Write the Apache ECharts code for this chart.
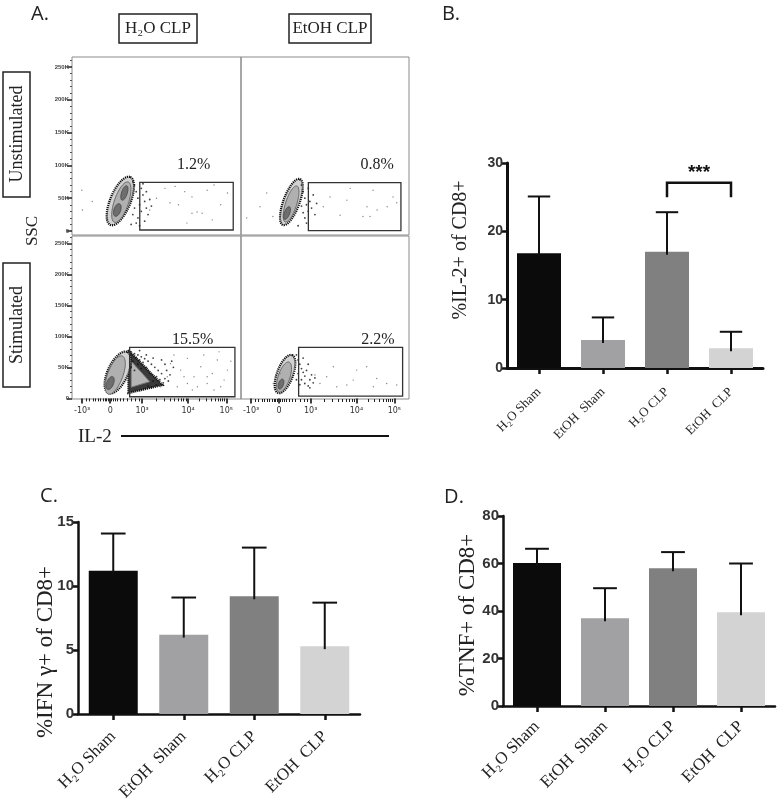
<!DOCTYPE html>
<html><head><meta charset="utf-8">
<script src="https://cdn.jsdelivr.net/npm/echarts@6/dist/echarts.min.js"></script>
<style>html,body{margin:0;padding:0;background:#fff}#c{width:782px;height:800px}</style>
</head><body><div id="c"></div><script>
// ---------------- DATA ----------------
const groups = ['H₂O Sham', 'EtOH  Sham', 'H₂O CLP', 'EtOH  CLP'];
const il2Mean = [16.8, 4.1, 17.0, 2.9];
const il2Sem  = [8.3, 3.3, 5.8, 2.4];
const ifnMean = [11.2, 6.2, 9.2, 5.3];
const ifnSem  = [2.9, 2.9, 3.8, 3.4];
const tnfMean = [60.2, 37.0, 58.0, 39.5];
const tnfSem  = [6.0, 12.6, 6.8, 20.5];
const il2Sig = [2, 3, 27.1, 25.0];   // groups compared, bracket level, leg end
const il2SigText = '***';
const yTitles = ['%IL-2+ of CD8+', '%IFN γ+ of CD8+', '%TNF+ of CD8+'];
const panelLetters = ['A.', 'B.', 'C.', 'D.'];

const flowCols = ['H₂O CLP', 'EtOH CLP'];
const flowRows = ['Unstimulated', 'Stimulated'];
const flowXTicks = [6, 22.6, 41.5, 68.7, 91.3];
const flowXLabels = ['-10³', '0', '10³', '10⁴', '10⁵'];
const sscTicks = [0, 50000, 100000, 150000, 200000, 250000];
const sscLabels = ['0', '50K', '100K', '150K', '200K', '250K'];
const gatePct = ['1.2%', '0.8%', '15.5%', '2.2%'];
const gates = [[40.1, 1500, 95.4, 74200], [40.1, 500, 95.2, 73600], [34.1, 2600, 96.4, 82300], [34.3, 3700, 96.2, 82300]];
const pctAt = [[72, 101000], [81, 101000], [71.4, 94000], [81.5, 94000]];

// contour ellipses: [cx, cy, majorEndX, majorEndY, halfWidthX]
const rimTL = [[28.6, 45700, 34.5, 82300, 6]];
const ringTL = [[29.2, 44000, 33.3, 74700, 4.2]];
const coreTL = [[31, 58000, 32.4, 69000, 1.7], [26.8, 32000, 28.1, 41500, 2]];
const rimTR = [[30, 44200, 35.1, 79300, 4.8]];
const ringTR = [[29.8, 41200, 33.3, 68600, 3.3]];
const coreTR = [[27.4, 27400, 28.8, 37000, 1.6]];
const rimBL = [[27.1, 41600, 32.7, 74700, 6]];
const ringBL = [[25.6, 37600, 29.8, 68200, 4.5]];
const coreBL = [[22.6, 24700, 24.1, 35000, 2]];
const wedgeBL = [[33.3, 77900], [53.6, 21500], [33.3, 8500]];
const wedgeRingBL = [[35, 60000], [46, 27000], [35, 18000]];
const rimBR = [[26.2, 39200, 30.4, 69800, 4.8]];
const ringBR = [[25.6, 34400, 28.6, 58500, 3.5]];
const coreBR = [[23.8, 23000, 24.8, 31000, 1.5]];

const denseTL = [[37,70000],[38,60000],[39,50000],[40,40000],[41,30000],[39,20000],[42,55000],[43,45000],[44,35000],[45,25000],[38,12000],[41,65000],[43,15000],[46,48000],[40,8000],[42,72000],[44,60000],[37,35000],[36,25000],[47,38000],[36,75000],[35,10000]];
const sparseTL = [[61,68000],[66.7,60000],[71,52000],[80,62000],[84,70000],[92,58000],[58,43000],[63,40000],[71,27000],[74,29000],[77,27000],[83,17000],[50,50000],[46,32000],[55,65000],[5.8,62000],[6.2,32000],[12,45000],[88,40000],[68,12000]];
const denseTR = [[36,70000],[37,60000],[38,50000],[39,40000],[40,30000],[38,20000],[41,45000],[42,35000],[43,55000],[37,28000],[39,12000],[44,25000],[40,65000],[36,38000],[45,42000],[35,78000],[34,8000]];
const sparseTR = [[53,52000],[63,47000],[75,37000],[81,32000],[87,37000],[90.5,52000],[72.6,22000],[59,24000],[49,37000],[78.6,62000],[65,65000],[92.7,43000],[76.8,22000],[11.3,37000],[3.4,20000],[15.3,58000],[19,22000]];
const denseBL = [[35,75000],[37,72000],[39,70000],[41,67000],[43,64000],[45,60000],[47,55000],[49,50000],[51,45000],[53,40000],[50,35000],[52,30000],[54,25000],[48,28000],[46,40000],[44,50000],[42,58000],[40,62000],[38,66000],[36,60000],[35,50000],[37,45000],[39,55000],[41,48000],[55,32000],[57,28000],[45,20000],[50,22000],[56,45000],[58,38000],[60,50000],[59,60000],[55,55000],[53,62000],[48,65000],[44,70000],[40,77000],[47,18000]];
const sparseBL = [[58.3,56000],[64.3,45600],[68.3,64500],[72.2,34800],[76.2,51000],[80,24000],[86,61800],[90,29500],[68.3,24000],[62.3,18700],[74.2,18700],[83,40000],[92,45600],[56.4,34800],[52.4,18700],[78,70000],[88,18700],[71.2,13400],[60.3,70000],[84,13400],[66.3,34800],[80,34800],[94,60000],[87,75000]];
const denseBR = [[33,70000],[34,62000],[35,55000],[36,48000],[37,42000],[38,36000],[36,30000],[38,24000],[40,20000],[41,30000],[39,45000],[42,38000],[34,40000],[33,30000],[35,22000],[43,25000],[44,33000],[40,55000],[37,65000],[41,17000]];
const sparseBR = [[55,51000],[66.8,29500],[74.8,51000],[63,21500],[78.8,18700],[86.7,24000],[92.7,21500],[51,34800],[47,24000],[68.9,45600],[57,18700],[80.8,32000],[44,37600],[19.2,24000],[23.2,40000]];

// ---------------- BUILD ----------------
const chart = echarts.init(document.getElementById('c'), null, {renderer: 'canvas'});
const SERIF = '"Liberation Serif", "Times New Roman", serif';
const NARROW = '"Liberation Sans Narrow", "Liberation Sans", Arial, sans-serif';
const barColors = ['#0b0b0b', '#a1a1a4', '#808080', '#d3d3d3'];

const grids = [
  {left: 72, top: 57, width: 169, height: 178},
  {left: 241, top: 57, width: 168, height: 178},
  {left: 72, top: 236, width: 169, height: 163},
  {left: 241, top: 236, width: 168, height: 163},
  {left: 507, top: 163, width: 256, height: 205},
  {left: 78, top: 522, width: 282, height: 192},
  {left: 503, top: 516, width: 272, height: 190}
].map((g, i) => Object.assign({outerBoundsMode: 'none', containLabel: false,
  show: i < 4, borderColor: '#8a8a8a', borderWidth: 1, backgroundColor: 'transparent'}, g));

const yRanges = [[-6100, 265200], [-6100, 265200], [-1000, 261800], [-1000, 261800]];
const minorX = [8.5, 10.5, 12.5, 14, 15.5, 17, 18.5, 19.5, 20.5, 21.5, 23.5, 24.5, 25.5, 27, 28.5, 30.5, 32.5, 35, 37.5, 39.5];
[[41.5, 68.7], [68.7, 91.3]].forEach(([a, b]) => { for (let k = 2; k < 10; k++) minorX.push(a + (b - a) * Math.log10(k)); });
const minorY = [];
for (let v = 10000; v <= 260000; v += 10000) if (v % 50000) minorY.push(v);

function nearestLabel(vals, labels, v) {
  let best = 0; vals.forEach((t, i) => { if (Math.abs(t - v) < Math.abs(vals[best] - v)) best = i; });
  return labels[best];
}

const xAxis = [], yAxis = [];
for (let i = 0; i < 4; i++) {
  const bottom = i >= 2;
  xAxis.push({gridIndex: i, type: 'value', min: 0, max: 100, axisLine: {show: false}, splitLine: {show: false},
    axisTick: bottom ? {show: true, customValues: flowXTicks, length: 5, lineStyle: {color: '#111', width: 1.6}} : {show: false},
    axisLabel: bottom ? {show: true, customValues: flowXTicks, formatter: v => nearestLabel(flowXTicks, flowXLabels, v),
      fontSize: 8, color: '#333', margin: 8, fontFamily: 'DejaVu Sans'} : {show: false}});
}
[2, 3].forEach(g => xAxis.push({gridIndex: g, type: 'value', min: 0, max: 100, position: 'bottom', axisLine: {show: false},
  splitLine: {show: false}, axisLabel: {show: false},
  axisTick: {show: true, customValues: minorX, length: 3, lineStyle: {color: '#222', width: 1}}}));
for (let i = 0; i < 4; i++) {
  const left = i % 2 === 0;
  yAxis.push({gridIndex: i, type: 'value', min: yRanges[i][0], max: yRanges[i][1], axisLine: {show: false}, splitLine: {show: false},
    axisTick: left ? {show: true, customValues: sscTicks, length: 5, lineStyle: {color: '#222', width: 1.5}} : {show: false},
    axisLabel: left ? {show: true, customValues: sscTicks, formatter: v => nearestLabel(sscTicks, sscLabels, v),
      fontSize: 6, fontWeight: 'bold', color: '#444', margin: 3, fontFamily: 'Liberation Sans'} : {show: false}});
}
[0, 2].forEach(g => yAxis.push({gridIndex: g, type: 'value', min: yRanges[g][0], max: yRanges[g][1], position: 'left',
  axisLine: {show: false}, splitLine: {show: false}, axisLabel: {show: false},
  axisTick: {show: true, customValues: minorY, length: 2, lineStyle: {color: '#555', width: 1}}}));

// bar axes
const barCfg = [
  {max: 30, interval: 10, lw: 3, tickFont: 14, catFont: 13, margin: 22, barW: 44},
  {max: 15, interval: 5, lw: 2.5, tickFont: 15, catFont: 17, margin: 20, barW: 49},
  {max: 80, interval: 20, lw: 2.5, tickFont: 15, catFont: 17, margin: 18, barW: 48}
];
barCfg.forEach((c, k) => {
  xAxis.push({gridIndex: 4 + k, type: 'category', data: groups,
    axisLine: {show: true, lineStyle: {color: '#111', width: c.lw}},
    axisTick: {show: true, alignWithLabel: true, length: 6, lineStyle: {color: '#111', width: 2.5}},
    axisLabel: {rotate: 45, interval: 0, fontFamily: SERIF, fontSize: c.catFont, color: '#222', margin: c.margin}});
  yAxis.push({gridIndex: 4 + k, type: 'value', min: 0, max: c.max, interval: c.interval,
    axisLine: {show: true, lineStyle: {color: '#111', width: c.lw}},
    axisTick: {show: true, length: 5, lineStyle: {color: '#111', width: 2.5}},
    axisLabel: {fontFamily: NARROW, fontWeight: 'bold', fontSize: c.tickFont, color: '#333', margin: 4},
    splitLine: {show: false}});
});

function ellipseRender(style) {
  return function (params, api) {
    const c = api.coord([api.value(0), api.value(1)]);
    const t = api.coord([api.value(2), api.value(3)]);
    const hw = api.size([api.value(4), 0])[0];
    const dx = t[0] - c[0], dy = t[1] - c[1];
    const a = Math.sqrt(dx * dx + dy * dy), ang = Math.atan2(dy, dx);
    const pts = [];
    for (let k = 0; k < 48; k++) {
      const th = k / 48 * Math.PI * 2, u = a * Math.cos(th), v = hw * Math.sin(th);
      pts.push([c[0] + u * Math.cos(ang) - v * Math.sin(ang), c[1] + u * Math.sin(ang) + v * Math.cos(ang)]);
    }
    return {type: 'polygon', shape: {points: pts}, style: Object.assign({}, style)};
  };
}

const flow = [
  {rim: rimTL, ring: ringTL, core: coreTL, dense: denseTL, sparse: sparseTL, wedge: null},
  {rim: rimTR, ring: ringTR, core: coreTR, dense: denseTR, sparse: sparseTR, wedge: null},
  {rim: rimBL, ring: ringBL, core: coreBL, dense: denseBL, sparse: sparseBL, wedge: wedgeBL, wedgeRing: wedgeRingBL},
  {rim: rimBR, ring: ringBR, core: coreBR, dense: denseBR, sparse: sparseBR, wedge: null}
];
const series = [];
function polySeries(pts, ax, style, z) {
  return Object.assign({type: 'custom', data: [[0, 0]], z: z, renderItem: (p, api) => ({
    type: 'polygon', shape: {points: pts.map(q => api.coord(q))}, style: Object.assign({}, style)})}, ax);
}
flow.forEach((fd, i) => {
  const ax = {xAxisIndex: i, yAxisIndex: i, silent: true};
  if (fd.wedge) {
    series.push(polySeries(fd.wedge, ax, {fill: '#3a3a3a', stroke: '#111', lineWidth: 2.2, lineDash: [1.2, 0.8]}, 2));
    series.push(polySeries(fd.wedgeRing, ax, {fill: '#b5b5b5', stroke: '#777', lineWidth: 1}, 2));
  }
  series.push(Object.assign({type: 'custom', data: fd.rim, z: 3, renderItem: ellipseRender({fill: '#d2d2d2', stroke: '#111', lineWidth: 2.2, lineDash: [1.2, 0.9]})}, ax));
  series.push(Object.assign({type: 'custom', data: fd.ring, z: 4, renderItem: ellipseRender({fill: '#b0b0b0', stroke: '#6a6a6a', lineWidth: 1})}, ax));
  series.push(Object.assign({type: 'custom', data: fd.core, z: 5, renderItem: ellipseRender({fill: '#6e6e6e', stroke: '#444', lineWidth: 0.8})}, ax));
  series.push(Object.assign({type: 'scatter', data: fd.dense, symbolSize: 1.8, itemStyle: {color: '#111'}, z: 6}, ax));
  series.push(Object.assign({type: 'scatter', data: fd.sparse, symbolSize: 1.4, itemStyle: {color: '#666'}, z: 6}, ax));
  series.push(Object.assign({type: 'custom', data: [gates[i]], z: 7, renderItem: (p, api) => {
    const a = api.coord([api.value(0), api.value(3)]), b = api.coord([api.value(2), api.value(1)]);
    return {type: 'rect', shape: {x: a[0], y: a[1], width: b[0] - a[0], height: b[1] - a[1]},
      style: {fill: 'none', stroke: '#333', lineWidth: 1.3}};
  }}, ax));
  series.push(Object.assign({type: 'custom', data: [pctAt[i]], z: 8, renderItem: (p, api) => {
    const q = api.coord([api.value(0), api.value(1)]);
    return {type: 'text', x: q[0], y: q[1], style: {text: gatePct[i], fill: '#222', font: '16px ' + SERIF,
      align: 'center', verticalAlign: 'middle', textAlign: 'center', textVerticalAlign: 'middle'}};
  }}, ax));
});

// bars
[[il2Mean, il2Sem], [ifnMean, ifnSem], [tnfMean, tnfSem]].forEach(([mean, sem], k) => {
  const ax = {xAxisIndex: 6 + k, yAxisIndex: 6 + k, silent: true};
  series.push(Object.assign({type: 'bar', barWidth: barCfg[k].barW, z: 2,
    data: mean.map((v, i) => ({value: v, itemStyle: {color: barColors[i]}}))}, ax));
  series.push(Object.assign({type: 'custom', z: 3, data: mean.map((v, i) => [i, v, v + sem[i]]),
    renderItem: (p, api) => {
      const lo = api.coord([api.value(0), api.value(1)]), hi = api.coord([api.value(0), api.value(2)]);
      const cw = api.size([1, 0])[0] * 0.35;
      return {type: 'group', children: [
        {type: 'line', shape: {x1: lo[0], y1: lo[1] + 3, x2: hi[0], y2: hi[1]}, style: {stroke: '#111', lineWidth: 2}},
        {type: 'line', shape: {x1: hi[0] - cw / 2, y1: hi[1], x2: hi[0] + cw / 2, y2: hi[1]}, style: {stroke: '#111', lineWidth: 2}}]};
    }}, ax));
});
series.push({type: 'custom', xAxisIndex: 6, yAxisIndex: 6, silent: true, z: 4, data: [il2Sig],
  renderItem: (p, api) => {
    const a = api.coord([api.value(0), api.value(2)]), b = api.coord([api.value(1), api.value(2)]);
    const legY = api.coord([api.value(0), api.value(3)])[1];
    return {type: 'group', children: [
      {type: 'polyline', shape: {points: [[a[0], legY], a, b, [b[0], legY]]}, style: {stroke: '#111', lineWidth: 2.5, fill: 'none'}},
      {type: 'text', x: (a[0] + b[0]) / 2, y: a[1] - 10, style: {text: il2SigText, fill: '#111', font: 'bold 19px "Liberation Sans"',
        align: 'center', verticalAlign: 'middle', textAlign: 'center', textVerticalAlign: 'middle'}}]};
  }});

// graphics
function txt(text, x, y, font, opts) {
  return Object.assign({type: 'text', x: x, y: y, z: 50, style: Object.assign({text: text, font: font, fill: '#222',
    align: 'center', verticalAlign: 'middle', textAlign: 'center', textVerticalAlign: 'middle'}, (opts && opts.style) || {})},
    opts && opts.rotation ? {rotation: opts.rotation} : {});
}
function box(x, y, w, h) {
  return {type: 'rect', z: 49, shape: {x: x, y: y, width: w, height: h}, style: {fill: '#fff', stroke: '#222', lineWidth: 1.5}};
}
const LETTER = '20px "Open Sans", "Liberation Sans", sans-serif';
const graphic = [
  txt(panelLetters[0], 40, 14, LETTER), txt(panelLetters[1], 451, 14, LETTER),
  txt(panelLetters[2], 49, 496, LETTER), txt(panelLetters[3], 454, 497, LETTER),
  box(119, 14, 78, 29), txt(flowCols[0], 158, 29, '17px ' + SERIF),
  box(289, 14, 82, 29), txt(flowCols[1], 330, 29, '17px ' + SERIF),
  box(3, 72, 27, 125), txt(flowRows[0], 17, 134, '18px ' + SERIF, {rotation: Math.PI / 2}),
  box(3, 263, 27, 124), txt(flowRows[1], 17, 325, '18px ' + SERIF, {rotation: Math.PI / 2}),
  txt('SSC', 33, 231, '17px ' + SERIF, {rotation: Math.PI / 2}),
  txt('IL-2', 78, 437, '19px ' + SERIF, {style: {align: 'left', textAlign: 'left'}}),
  {type: 'line', z: 50, shape: {x1: 121, y1: 436, x2: 389, y2: 436}, style: {stroke: '#111', lineWidth: 2}},
  txt(yTitles[0], 461, 250, '20px ' + SERIF, {rotation: Math.PI / 2}),
  txt(yTitles[1], 46, 652, '23px ' + SERIF, {rotation: Math.PI / 2}),
  txt(yTitles[2], 468, 615, '23px ' + SERIF, {rotation: Math.PI / 2})
];

chart.setOption({animation: false, backgroundColor: '#fff', grid: grids, xAxis: xAxis, yAxis: yAxis, series: series, graphic: graphic});
</script></body></html>
